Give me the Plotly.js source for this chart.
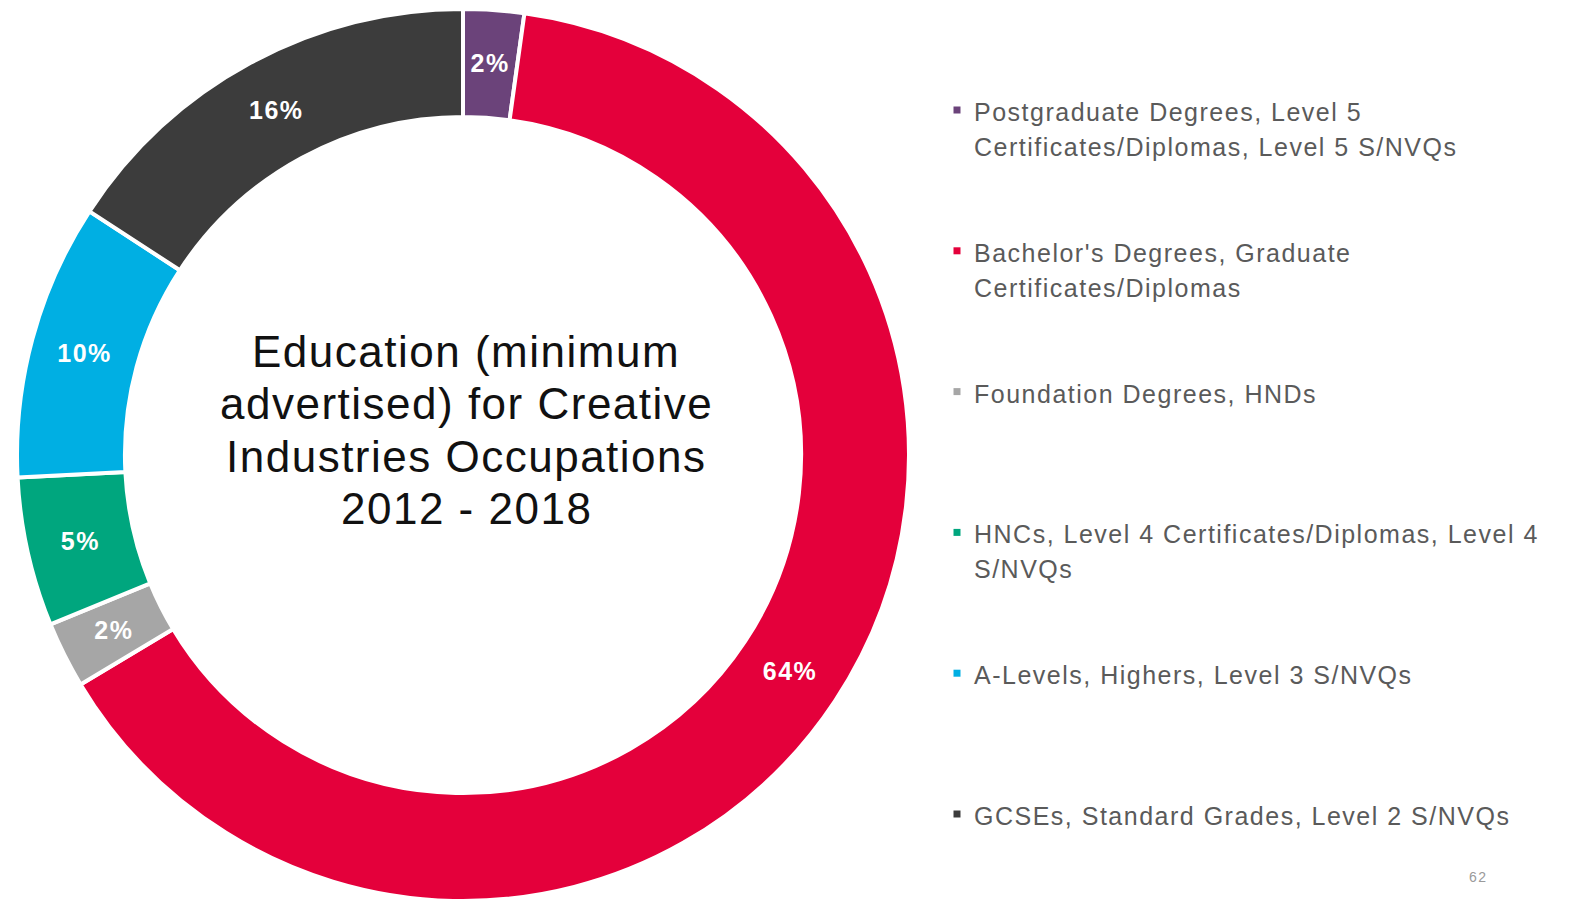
<!DOCTYPE html>
<html>
<head>
<meta charset="utf-8">
<script src="https://cdn.plot.ly/plotly-3.0.1.min.js"></script>
<style>
  html, body { margin: 0; padding: 0; background: #ffffff; }
  #chart { width: 1573px; height: 904px; }
  .annotation-text { letter-spacing: 1.5px; }
  .slicetext { letter-spacing: 1.5px; }
</style>
</head>
<body>
<div id="chart"></div>
<script>
// Minimum advertised education level, creative industries occupations 2012-2018
const categories = [
  "Postgraduate Degrees, Level 5<br>Certificates/Diplomas, Level 5 S/NVQs",
  "Bachelor's Degrees, Graduate<br>Certificates/Diplomas",
  "Foundation Degrees, HNDs",
  "HNCs, Level 4 Certificates/Diplomas, Level 4<br>S/NVQs",
  "A-Levels, Highers, Level 3 S/NVQs",
  "GCSEs, Standard Grades, Level 2 S/NVQs"
];
const shares = [2.2, 64.2, 2.4, 5.4, 10.0, 15.8];
const sliceColors = ["#6b437a", "#e4003b", "#a6a6a6", "#00a67e", "#00afe3", "#3c3c3c"];
const centerTitleLines = [
  "Education (minimum",
  "advertised) for Creative",
  "Industries Occupations",
  "2012 - 2018"
];
const pageNumber = "62";

const W = 1573, H = 904;
const FONT = "Liberation Sans, Arial, sans-serif";
const px = x => x / W;
const py = y => 1 - y / H;

// Donut geometry in pixels
const cx = 463, cy = 455, R = 446, HOLE = 0.758;
// Thin slices get their label from a smaller, invisible copy of the donut so the
// percentage sits in the middle of the ring instead of near the outer edge.
const thinLimit = 3;
const isThin = shares.map(v => v < thinLimit);
const pctTemplate = "%{percent:.0%}";
const labelFont = { family: FONT, size: 25, color: "#ffffff", weight: "bold" };

const donut = {
  type: "pie",
  labels: categories,
  values: shares,
  sort: false,
  direction: "clockwise",
  rotation: 0,
  hole: HOLE,
  domain: { x: [px(cx - R), px(cx + R)], y: [py(cy + R), py(cy - R)] },
  marker: { colors: sliceColors, line: { color: "#ffffff", width: 4 } },
  texttemplate: isThin.map(t => t ? "" : pctTemplate),
  textposition: "inside",
  insidetextorientation: "horizontal",
  textfont: labelFont,
  hoverinfo: "none",
  showlegend: false
};

const r2 = 420;
const thinLabels = {
  type: "pie",
  labels: categories,
  values: shares,
  sort: false,
  direction: "clockwise",
  rotation: 0,
  domain: { x: [px(cx - r2), px(cx + r2)], y: [py(cy + r2), py(cy - r2)] },
  marker: { colors: shares.map(() => "rgba(0,0,0,0)"), line: { width: 0 } },
  texttemplate: isThin.map(t => t ? pctTemplate : ""),
  textposition: "inside",
  insidetextorientation: "horizontal",
  textfont: labelFont,
  hoverinfo: "none",
  showlegend: false
};

const annotations = [];
const shapes = [];

// Centre title, one line per annotation
const titleTop = 351, titleStep = 52;
centerTitleLines.forEach((line, i) => {
  annotations.push({
    xref: "paper", yref: "paper",
    x: px(466), y: py(titleTop + i * titleStep + 1),
    xanchor: "center", yanchor: "middle",
    text: line, showarrow: false,
    font: { family: FONT, size: 44, color: "#111111" }
  });
});

// Legend: coloured square plus label lines
const legendTop = 110, legendStep = 140.8, lineStep = 35;
const textX = 972, boxX = 957, boxHalf = 3.5;
categories.forEach((name, i) => {
  const yc = legendTop + i * legendStep;
  shapes.push({
    type: "rect", xref: "paper", yref: "paper",
    x0: px(boxX - boxHalf), x1: px(boxX + boxHalf),
    y0: py(yc + boxHalf), y1: py(yc - boxHalf),
    fillcolor: sliceColors[i], line: { width: 0 }
  });
  name.split("<br>").forEach((line, j) => {
    annotations.push({
      xref: "paper", yref: "paper",
      x: px(textX), y: py(yc + j * lineStep + 2),
      xanchor: "left", yanchor: "middle",
      text: line, showarrow: false,
      font: { family: FONT, size: 25, color: "#5a5a5a" }
    });
  });
});

// Page number
annotations.push({
  xref: "paper", yref: "paper",
  x: px(1478), y: py(877),
  xanchor: "center", yanchor: "middle",
  text: pageNumber, showarrow: false,
  font: { family: FONT, size: 14, color: "#9a9a9a" }
});

const layout = {
  width: W, height: H,
  margin: { l: 0, r: 0, t: 0, b: 0 },
  paper_bgcolor: "#ffffff",
  plot_bgcolor: "#ffffff",
  showlegend: false,
  annotations: annotations,
  shapes: shapes
};

Plotly.newPlot("chart", [donut, thinLabels], layout, { displayModeBar: false, staticPlot: true });
</script>
</body>
</html>
